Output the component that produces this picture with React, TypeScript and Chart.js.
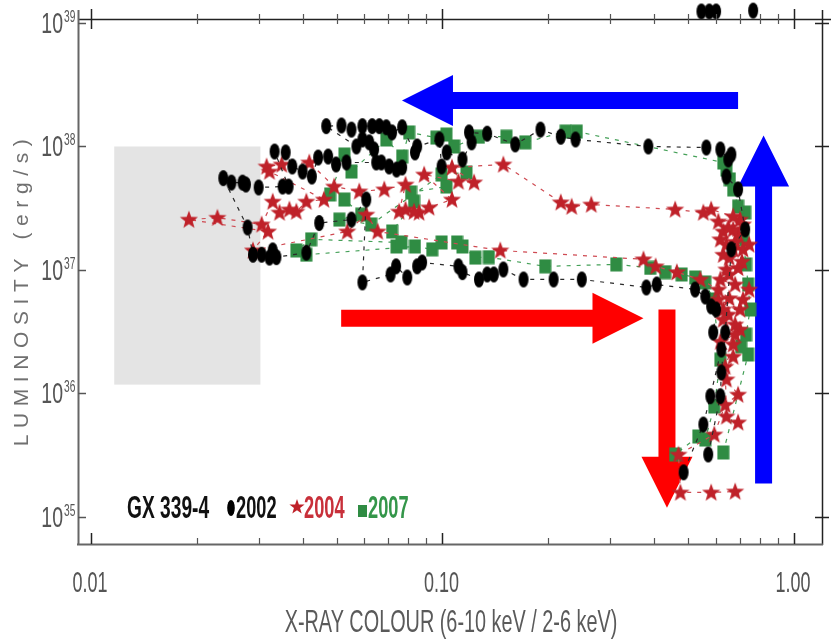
import React, { useEffect, useRef } from 'react';
import { Chart, registerables } from 'chart.js';
Chart.register(...registerables);

// ---------- axis ranges ----------
const X_MIN = 0.00919;
const X_MAX = 1.2007;
const Y_MIN = 6.045e34;
const Y_MAX = 1.077e39;

// ---------- tick labels ----------
const xTickValues = [0.01, 0.1, 1];
const xTickLabels = ['0.01', '0.10', '1.00'];
const yTickExponents = [35, 36, 37, 38, 39];

// ---------- GX 339-4, 2002 outburst (black) ----------
const x2002 = [
  0.570, 0.617, 0.621, 0.637, 0.663, 0.726, 0.693, 0.642, 0.663, 0.650, 0.617, 0.563,
  0.385, 0.239, 0.217, 0.190, 0.161, 0.134, 0.119, 0.121, 0.114, 0.1028, 0.0994, 0.098,
  0.0847, 0.0835, 0.0768, 0.0719, 0.0692, 0.0661, 0.0631, 0.0592, 0.0551, 0.0516, 0.0467,
  0.0569, 0.0592, 0.0619, 0.0639, 0.0670, 0.0705, 0.0740, 0.0768, 0.0648, 0.0533, 0.0498,
  0.0473, 0.0443, 0.0425, 0.0400, 0.0374, 0.0358, 0.0333, 0.0365, 0.0351, 0.0300, 0.0276,
  0.0270, 0.0251, 0.0238,
  0.0279, 0.0289, 0.0306, 0.0322, 0.0329, 0.0337, 0.0410, 0.0446, 0.0551, 0.0607,
  0.0592, 0.0712, 0.0738, 0.0794, 0.0847, 0.0875, 0.111, 0.114, 0.127, 0.134, 0.140, 0.149,
  0.170, 0.207, 0.249, 0.380, 0.407, 0.523, 0.559, 0.581, 0.600, 0.589, 0.621, 0.578,
  0.552, 0.485,
];
const y2002 = [
  3.21e35, 9.5e35, 1.48e36, 3.12e36, 1.47e37, 2.13e37, 4.49e37, 5.71e37, 8.61e37, 7.85e37, 9.46e37, 9.81e37,
  1.0e38, 1.14e38, 1.20e38, 1.37e38, 1.04e38, 1.27e38, 1.30e38, 1.08e38, 7.85e37, 8.95e37, 6.89e37, 1.14e38,
  1.0e38, 8.95e37, 1.43e38, 1.30e38, 1.43e38, 1.46e38, 1.46e38, 1.46e38, 1.37e38, 1.48e38, 1.46e38,
  1.0e38, 1.14e38, 1.08e38, 9.46e37, 7.42e37, 6.89e37, 6.51e37, 6.76e37, 7.42e37, 7.42e37, 7.15e37,
  8.29e37, 8.14e37, 5.71e37, 6.27e37, 6.89e37, 8.95e37, 9.1e37, 4.74e37, 4.74e37, 4.66e37, 4.92e37,
  5.1e37, 5.1e37, 5.54e37,
  2.21e37, 1.33e37, 1.33e37, 1.26e37, 1.44e37, 1.27e37, 1.38e37, 2.4e37, 2.56e37, 3.72e37,
  7.93e36, 9.2e36, 1.07e37, 8.7e36, 1.07e37, 1.15e37, 1.07e37, 9.6e36, 8.38e36, 9.2e36, 9.2e36, 1.01e37,
  8.38e36, 8.38e36, 8.38e36, 7.22e36, 7.63e36, 6.95e36, 6.1e36, 5.07e36, 4.79e36, 3.12e36, 2.27e36, 9.5e35,
  5.61e35, 2.30e35,
];
// 2002 points beyond the top of the frame
const x2002Top = [0.545, 0.574, 0.600, 0.765];
const y2002Top = [1.24e39, 1.24e39, 1.24e39, 1.26e39];

// ---------- 2004 outburst (red stars) ----------
const x2004 = [
  0.693, 0.642, 0.637, 0.671, 0.702, 0.680, 0.650, 0.629, 0.702, 0.609, 0.716, 0.745,
  0.680, 0.617, 0.654, 0.642, 0.693, 0.711, 0.654, 0.629, 0.671, 0.716, 0.745, 0.642,
  0.680, 0.617, 0.693, 0.629, 0.671, 0.650, 0.716, 0.702, 0.609, 0.671,
  0.581, 0.552, 0.459, 0.265, 0.233, 0.217, 0.149, 0.1064, 0.123, 0.111, 0.0887, 0.1064,
  0.0916, 0.0858, 0.0830, 0.0785, 0.0753, 0.0785, 0.0683, 0.0580, 0.0492, 0.0418, 0.0349,
  0.0316, 0.0322, 0.0460, 0.0410, 0.0384, 0.0367, 0.0344, 0.0329, 0.0306, 0.0229, 0.0190,
  0.0319, 0.0289, 0.0536, 0.0607, 0.0654, 0.146, 0.373, 0.404, 0.464, 0.541, 0.609, 0.654,
  0.629, 0.680, 0.617, 0.671, 0.642, 0.693, 0.637, 0.593, 0.469, 0.475, 0.581, 0.680,
];
const y2004 = [
  5.83e35, 6.52e35, 1.65e36, 2.50e36, 3.30e36, 3.62e36, 4.36e36, 4.79e36, 4.79e36, 5.77e36, 5.77e36, 6.95e36,
  7.63e36, 8.38e36, 9.2e36, 1.01e37, 1.04e37, 1.17e37, 1.26e37, 1.33e37, 1.47e37, 1.47e37, 1.61e37, 1.61e37,
  1.69e37, 1.77e37, 1.94e37, 2.05e37, 2.13e37, 2.21e37, 2.34e37, 2.56e37, 2.47e37, 2.72e37,
  3.09e37, 2.92e37, 3.09e37, 3.39e37, 3.26e37, 3.53e37, 7.15e37, 6.76e37, 5.12e37, 5.21e37, 5.93e37, 3.72e37,
  3.21e37, 2.92e37, 2.97e37, 3.09e37, 2.97e37, 4.92e37, 4.49e37, 4.33e37, 4.74e37, 7.42e37, 7.15e37,
  6.89e37, 6.27e37, 3.72e37, 3.58e37, 2.97e37, 3.09e37, 2.92e37, 3.58e37, 2.34e37, 2.65e37, 2.56e37,
  2.05e37, 1.44e37, 2.05e37, 2.81e37, 2.05e37, 1.44e37, 1.22e37, 1.07e37, 9.6e36, 8.38e36, 6.95e36, 5.9e36,
  3.97e36, 3.0e36, 2.63e36, 1.99e36, 1.30e36, 9.8e35, 8.1e35, 4.66e35, 3.2e35, 1.58e35, 1.58e35, 1.61e35,
];

// ---------- 2007 outburst (green squares) ----------
const x2007 = [
  0.629, 0.740, 0.707, 0.730, 0.750, 0.740, 0.730, 0.716, 0.726, 0.693, 0.671, 0.657, 0.642, 0.629,
  0.241, 0.224, 0.172, 0.152, 0.127, 0.108, 0.1026, 0.0961, 0.0804, 0.0768, 0.0692, 0.0551, 0.0526,
  0.0479, 0.0526, 0.0587, 0.0509, 0.0627, 0.0994, 0.117, 0.1026, 0.0814, 0.0830, 0.0719, 0.0740,
  0.0764, 0.0423, 0.0384, 0.0410, 0.0835, 0.0935, 0.0994, 0.110, 0.114, 0.124, 0.1355, 0.196,
  0.312, 0.390, 0.430, 0.479, 0.523, 0.559, 0.589, 0.617, 0.593, 0.559, 0.534, 0.459,
];
const y2007 = [
  3.33e35, 2.07e36, 2.41e36, 3.0e36, 4.79e36, 7.63e36, 1.11e37, 1.77e37, 2.92e37, 3.26e37, 4.49e37, 5.41e37, 6.51e37, 7.42e37,
  1.32e38, 1.32e38, 1.08e38, 1.20e38, 1.20e38, 1.0e38, 1.25e38, 1.18e38, 1.30e38, 8.29e37, 1.14e38, 6.27e37, 8.61e37,
  4.09e37, 3.72e37, 2.81e37, 2.56e37, 2.34e37, 5.93e37, 6.15e37, 4.74e37, 4.25e37, 3.58e37, 2.05e37, 1.55e37,
  1.67e37, 1.77e37, 1.44e37, 1.33e37, 1.55e37, 1.47e37, 1.67e37, 1.67e37, 1.55e37, 1.26e37, 1.27e37, 1.07e37,
  1.11e37, 1.04e37, 9.6e36, 9.2e36, 8.7e36, 7.93e36, 5.77e36, 1.88e36, 7.85e35, 4.24e35, 4.49e35, 3.21e35,
];

// ---------- shaded region and arrows (in data units) ----------
const grayBoxX = [0.01165, 0.03035];
const grayBoxY = [1.18e36, 1.0e38];
const arrowColors = ['#0000ff', '#0000ff', '#ff0000', '#ff0000'];
const arrowFrom = [
  [0.693, 2.36e38],
  [0.819, 1.87e35],
  [0.0515, 4.07e36],
  [0.435, 4.79e36],
];
const arrowTo = [
  [0.0767, 2.36e38],
  [0.819, 1.23e38],
  [0.373, 4.07e36],
  [0.435, 1.19e35],
];

const RED = '#bf2129';
const GREEN = '#2f8c43';
const FONT = '"Liberation Sans", Arial, sans-serif';

const pts = (xs: number[], ys: number[]) => xs.map((v, i) => ({ x: v, y: ys[i] }));

function starPath(g: CanvasRenderingContext2D, cx: number, cy: number, R: number, r: number) {
  g.beginPath();
  for (let i = 0; i < 10; i++) {
    const a = -Math.PI / 2 + (i * Math.PI) / 5;
    const rad = i % 2 === 0 ? R : r;
    g.lineTo(cx + rad * Math.cos(a), cy + rad * Math.sin(a));
  }
  g.closePath();
}

function drawText(
  ctx: CanvasRenderingContext2D, text: string, x: number, y: number,
  font: string, color: string, align: CanvasTextAlign, sx: number
) {
  ctx.save();
  ctx.font = font;
  ctx.fillStyle = color;
  ctx.textAlign = align;
  ctx.textBaseline = 'alphabetic';
  ctx.translate(x, y);
  ctx.scale(sx, 1);
  ctx.fillText(text, 0, 0);
  ctx.restore();
}

function line(ctx: CanvasRenderingContext2D, x1: number, y1: number, x2: number, y2: number) {
  ctx.beginPath();
  ctx.moveTo(x1, y1);
  ctx.lineTo(x2, y2);
  ctx.stroke();
}

const decorPlugin = {
  id: 'decor',
  beforeDatasetsDraw(chart: any) {
    const { ctx } = chart;
    const xs = chart.scales.x;
    const ys = chart.scales.y;
    ctx.save();
    // shaded box
    const l = xs.getPixelForValue(grayBoxX[0]);
    const r = xs.getPixelForValue(grayBoxX[1]);
    const t = ys.getPixelForValue(grayBoxY[1]);
    const b = ys.getPixelForValue(grayBoxY[0]);
    ctx.fillStyle = '#e4e4e4';
    ctx.fillRect(l, t, r - l, b - t);
    // arrows
    const shaftHalf = 8.5;
    const headLen = 51;
    const headHalf = 25.5;
    for (let i = 0; i < arrowFrom.length; i++) {
      const x1 = xs.getPixelForValue(arrowFrom[i][0]);
      const y1 = ys.getPixelForValue(arrowFrom[i][1]);
      const x2 = xs.getPixelForValue(arrowTo[i][0]);
      const y2 = ys.getPixelForValue(arrowTo[i][1]);
      const len = Math.hypot(x2 - x1, y2 - y1);
      const ux = (x2 - x1) / len;
      const uy = (y2 - y1) / len;
      const nx = -uy;
      const ny = ux;
      const bx = x2 - ux * headLen;
      const by = y2 - uy * headLen;
      ctx.fillStyle = arrowColors[i];
      ctx.beginPath();
      ctx.moveTo(x1 + nx * shaftHalf, y1 + ny * shaftHalf);
      ctx.lineTo(bx + nx * shaftHalf, by + ny * shaftHalf);
      ctx.lineTo(bx + nx * headHalf, by + ny * headHalf);
      ctx.lineTo(x2, y2);
      ctx.lineTo(bx - nx * headHalf, by - ny * headHalf);
      ctx.lineTo(bx - nx * shaftHalf, by - ny * shaftHalf);
      ctx.lineTo(x1 - nx * shaftHalf, y1 - ny * shaftHalf);
      ctx.closePath();
      ctx.fill();
    }
    ctx.restore();
  },
  afterDatasetsDraw(chart: any) {
    const { ctx, chartArea } = chart;
    const xs = chart.scales.x;
    const ys = chart.scales.y;
    const { left, right, top, bottom } = chartArea;
    ctx.save();
    // frame
    ctx.lineCap = 'butt';
    ctx.strokeStyle = '#222';
    ctx.lineWidth = 1.5;
    line(ctx, left, top + 0.5, right + 9, top + 0.5);
    line(ctx, right + 0.5, top - 9, right + 0.5, bottom + 1);
    ctx.strokeStyle = '#666';
    ctx.lineWidth = 2;
    line(ctx, left + 0.5, top - 9, left + 0.5, bottom + 1);
    line(ctx, left - 1, bottom + 0.5, right + 1, bottom + 0.5);

    // x ticks (bottom inward, top crossing)
    for (let d = -3; d <= 0; d++) {
      for (let m = 1; m <= 9; m++) {
        const v = m * Math.pow(10, d);
        if (v < X_MIN || v > X_MAX) continue;
        const px = Math.round(xs.getPixelForValue(v)) + 0.5;
        const major = m === 1;
        ctx.strokeStyle = major ? '#222' : '#555';
        ctx.lineWidth = major ? 1.5 : 1.2;
        line(ctx, px, bottom, px, bottom - (major ? 11 : 6));
        line(ctx, px, top - (major ? 10 : 5), px, top + (major ? 10 : 5));
      }
    }
    // y ticks
    for (const e of yTickExponents) {
      const py = Math.round(ys.getPixelForValue(Math.pow(10, e))) + 0.5;
      ctx.strokeStyle = '#555';
      ctx.lineWidth = 1.5;
      line(ctx, left, py, left + 8, py);
      ctx.strokeStyle = '#222';
      line(ctx, right - 7, py, right + 7, py);
    }

    // x tick labels
    for (let i = 0; i < xTickValues.length; i++) {
      const px = xs.getPixelForValue(xTickValues[i]);
      drawText(ctx, xTickLabels[i], px - 1, bottom + 48, `30px ${FONT}`, '#555', 'center', 0.6);
    }
    // y tick labels 10^n
    for (const e of yTickExponents) {
      const py = ys.getPixelForValue(Math.pow(10, e));
      drawText(ctx, '10', left - 15, py + 10, `30px ${FONT}`, '#555', 'right', 0.65);
      drawText(ctx, String(e), left - 14, py - 1, `17px ${FONT}`, '#555', 'left', 0.6);
    }

    // axis titles
    drawText(ctx, 'X-RAY COLOUR (6-10 keV / 2-6 keV)', (left + right) / 2 + 1, bottom + 88,
      `32px ${FONT}`, '#5a5a5a', 'center', 0.62);
    ctx.save();
    ctx.translate(left - 50, (top + bottom) / 2 + 8);
    ctx.rotate(-Math.PI / 2);
    ctx.font = `21px ${FONT}`;
    (ctx as any).letterSpacing = '6.6px';
    ctx.fillStyle = '#707070';
    ctx.textAlign = 'center';
    ctx.textBaseline = 'alphabetic';
    ctx.fillText('LUMINOSITY (erg/s)', 0, 0);
    ctx.restore();

    // in-plot legend
    const lf = `bold 32px ${FONT}`;
    const ly = bottom - 26;
    drawText(ctx, 'GX 339-4', left + 49, ly, lf, '#111', 'left', 0.6);
    ctx.fillStyle = '#000';
    ctx.beginPath();
    ctx.ellipse(left + 153, ly - 10, 3.8, 8, 0, 0, Math.PI * 2);
    ctx.fill();
    drawText(ctx, '2002', left + 158, ly, lf, '#111', 'left', 0.57);
    starPath(ctx, left + 219, ly - 11, 8, 3.2);
    ctx.fillStyle = RED;
    ctx.fill();
    drawText(ctx, '2004', left + 226, ly, lf, '#c8303a', 'left', 0.57);
    ctx.fillStyle = GREEN;
    ctx.fillRect(left + 280, ly - 13, 9, 12);
    drawText(ctx, '2007', left + 290, ly, lf, '#34964a', 'left', 0.57);
    ctx.restore();
  },
};

export default function App() {
  const ref = useRef<HTMLCanvasElement>(null);
  useEffect(() => {
    const canvas = ref.current;
    if (!canvas) return;
    const mk = (w: number, h: number, draw: (g: CanvasRenderingContext2D) => void) => {
      const c = document.createElement('canvas');
      c.width = w;
      c.height = h;
      draw(c.getContext('2d') as CanvasRenderingContext2D);
      return c;
    };
    const ellipseImg = mk(12, 18, (g) => {
      g.fillStyle = '#000';
      g.beginPath();
      g.ellipse(6, 9, 5, 8, 0, 0, Math.PI * 2);
      g.fill();
    });
    const starImg = mk(20, 20, (g) => {
      starPath(g, 10, 10.5, 9.5, 3.9);
      g.fillStyle = RED;
      g.fill();
    });
    const squareImg = mk(13, 15, (g) => {
      g.fillStyle = GREEN;
      g.fillRect(0.5, 0.5, 12, 14);
    });

    const chart = new Chart(canvas, {
      type: 'scatter',
      data: {
        datasets: [
          {
            label: '2002 (off scale)',
            data: pts(x2002Top, y2002Top),
            showLine: false,
            pointStyle: ellipseImg as any,
            pointRadius: 10,
            clip: false as any,
          },
          {
            label: '2002',
            data: pts(x2002, y2002),
            showLine: true,
            borderColor: '#2a2a2a',
            borderWidth: 1.2,
            borderDash: [4, 6],
            pointStyle: ellipseImg as any,
            pointRadius: 8,
          },
          {
            label: '2004',
            data: pts(x2004, y2004),
            showLine: true,
            borderColor: '#cf4a52',
            borderWidth: 1.2,
            borderDash: [4, 6],
            pointStyle: starImg as any,
            pointRadius: 9,
          },
          {
            label: '2007',
            data: pts(x2007, y2007),
            showLine: true,
            borderColor: '#45a058',
            borderWidth: 1.2,
            borderDash: [4, 6],
            pointStyle: squareImg as any,
            pointRadius: 8,
          },
        ],
      },
      options: {
        animation: false,
        responsive: false,
        devicePixelRatio: 1,
        layout: { padding: { left: 78, top: 19, right: 9, bottom: 99 } },
        scales: {
          x: { type: 'logarithmic', min: X_MIN, max: X_MAX, display: false },
          y: { type: 'logarithmic', min: Y_MIN, max: Y_MAX, display: false },
        },
        plugins: { legend: { display: false }, tooltip: { enabled: false } },
        events: [],
      },
      plugins: [decorPlugin],
    });
    return () => chart.destroy();
  }, []);
  return (
    <div style={{ position: 'absolute', left: 0, top: 0, width: 833, height: 643, background: '#fff' }}>
      <canvas ref={ref} width={833} height={643} style={{ display: 'block', width: 833, height: 643 }} />
    </div>
  );
}
